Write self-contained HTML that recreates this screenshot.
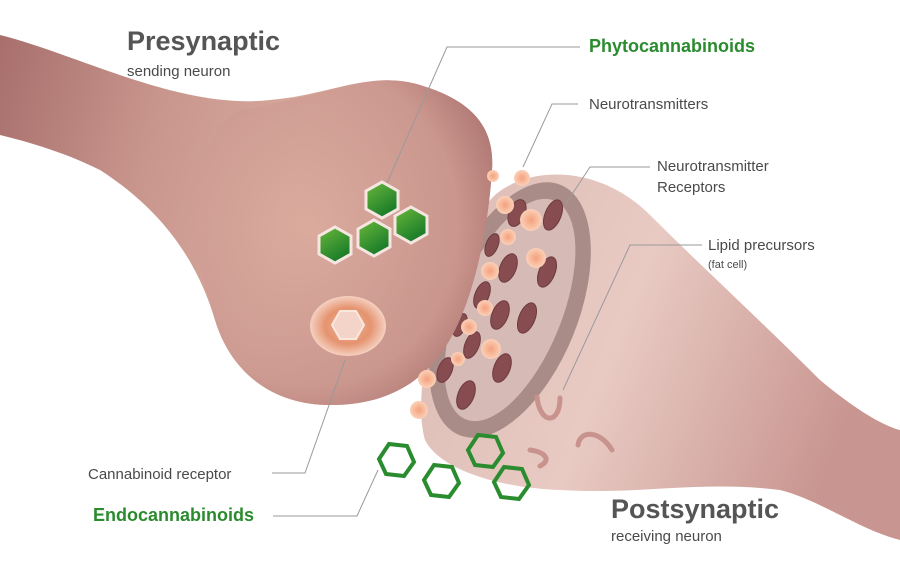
<!DOCTYPE html>
<html><head><meta charset="utf-8"><style>
html,body{margin:0;padding:0;background:#fff;}
svg{display:block;font-family:"Liberation Sans",sans-serif;}
</style></head><body>
<svg width="900" height="563" viewBox="0 0 900 563" xmlns="http://www.w3.org/2000/svg">
<defs>
<linearGradient id="pre" x1="0" y1="0" x2="1" y2="0.2">
<stop offset="0" stop-color="#a86f6c"/><stop offset="0.35" stop-color="#c9968d"/><stop offset="0.65" stop-color="#d7a89c"/><stop offset="1" stop-color="#b98079"/></linearGradient>
<radialGradient id="bulb" cx="0.4" cy="0.45" r="0.7"><stop offset="0" stop-color="#dcac9f"/><stop offset="0.7" stop-color="#cc9990"/><stop offset="1" stop-color="#a86f6c"/></radialGradient>
<linearGradient id="post" x1="0" y1="0" x2="1" y2="0.3">
<stop offset="0" stop-color="#dcbcb5"/><stop offset="0.5" stop-color="#e8cac3"/><stop offset="1" stop-color="#c99590"/></linearGradient>
<radialGradient id="cr" cx="0.5" cy="0.5" r="0.5"><stop offset="0" stop-color="#f0b49a"/><stop offset="0.6" stop-color="#e5936f"/><stop offset="1" stop-color="#f5d0c0"/></radialGradient>
<radialGradient id="dot" cx="0.5" cy="0.5" r="0.5"><stop offset="0" stop-color="#f4a17c"/><stop offset="1" stop-color="#fbd0b8"/></radialGradient>
<linearGradient id="hex" x1="0" y1="0" x2="0.6" y2="1"><stop offset="0" stop-color="#6cb83c"/><stop offset="1" stop-color="#167a28"/></linearGradient>
</defs>

<!-- postsynaptic -->
<path d="M425,440 C410,390 440,250 495,195 C530,165 600,165 650,215 C700,265 760,320 820,380 C850,405 880,425 900,430 L900,540 C860,530 820,500 780,490 C700,480 640,495 560,490 C500,488 440,470 425,440 Z" fill="url(#post)"/>
<g transform="translate(510,310) rotate(22)">
<ellipse rx="68" ry="135" fill="#a98c88"/>
<ellipse rx="52" ry="118" fill="#d6bab5"/>
</g>
<g fill="#874c50" stroke="#6d3a3e" stroke-width="1">
<ellipse cx="553" cy="215" rx="8" ry="16" transform="rotate(22 553 215)"/>
<ellipse cx="517" cy="213" rx="8" ry="14" transform="rotate(22 517 213)"/>
<ellipse cx="547" cy="272" rx="8" ry="16" transform="rotate(22 547 272)"/>
<ellipse cx="508" cy="268" rx="8" ry="15" transform="rotate(22 508 268)"/>
<ellipse cx="482" cy="295" rx="7" ry="14" transform="rotate(22 482 295)"/>
<ellipse cx="527" cy="318" rx="8" ry="16" transform="rotate(22 527 318)"/>
<ellipse cx="500" cy="315" rx="8" ry="15" transform="rotate(22 500 315)"/>
<ellipse cx="472" cy="345" rx="7" ry="14" transform="rotate(22 472 345)"/>
<ellipse cx="502" cy="368" rx="8" ry="15" transform="rotate(22 502 368)"/>
<ellipse cx="466" cy="395" rx="8" ry="15" transform="rotate(22 466 395)"/>
<ellipse cx="445" cy="370" rx="7" ry="13" transform="rotate(22 445 370)"/>
<ellipse cx="492" cy="245" rx="6" ry="12" transform="rotate(22 492 245)"/>
<ellipse cx="460" cy="325" rx="6" ry="12" transform="rotate(22 460 325)"/>
</g>
<g fill="none" stroke="#c9938d" stroke-width="5" stroke-linecap="round">
<path d="M537,397 C540,425 560,425 560,398"/>
<path d="M530,450 C545,452 552,460 540,466"/>
<path d="M578,445 C580,430 600,430 612,450"/>
</g>

<!-- presynaptic -->
<path d="M0,35 C80,55 180,110 270,100 C330,95 370,70 420,85 C470,100 495,125 492,170 C488,230 475,290 455,330 C430,380 390,405 330,405 C270,405 230,370 215,320 C200,270 170,215 100,170 C60,150 20,140 0,135 Z" fill="url(#pre)"/>
<path d="M240,110 C330,95 370,70 420,85 C470,100 495,125 492,170 C488,230 475,290 455,330 C430,380 390,405 330,405 C270,405 230,370 215,320 C205,285 195,250 190,220 C200,160 215,120 240,110 Z" fill="url(#bulb)" opacity="0.85"/>

<!-- green hexes -->
<g fill="url(#hex)" stroke="#f5e6e2" stroke-width="3">
<polygon points="382,182 398,191 398,209 382,218 366,209 366,191"/>
<polygon points="411,207 427,216 427,234 411,243 395,234 395,216"/>
<polygon points="374,220 390,229 390,247 374,256 358,247 358,229"/>
<polygon points="335,227 351,236 351,254 335,263 319,254 319,236"/>
</g>
<ellipse cx="348" cy="326" rx="38" ry="30" fill="url(#cr)"/>
<polygon points="340,311 356,311 364,325 356,339 340,339 332,325" fill="#f4d4c8" stroke="#fae8e0" stroke-width="2"/>

<g fill="url(#dot)">
<circle cx="522" cy="178" r="8"/><circle cx="493" cy="176" r="6"/>
<circle cx="505" cy="205" r="9"/><circle cx="531" cy="220" r="11"/>
<circle cx="508" cy="237" r="8"/><circle cx="536" cy="258" r="10"/>
<circle cx="490" cy="271" r="9"/><circle cx="485" cy="308" r="8"/>
<circle cx="469" cy="327" r="8"/><circle cx="491" cy="349" r="10"/>
<circle cx="458" cy="359" r="7"/><circle cx="427" cy="379" r="9"/>
<circle cx="419" cy="410" r="9"/>
</g>

<g fill="none" stroke="#2a8c2e" stroke-width="4">
<polygon points="389,444 407,446 414,462 404,476 386,474 379,459"/>
<polygon points="434,465 452,467 459,483 449,497 431,495 424,480"/>
<polygon points="478,435 496,437 503,453 493,467 475,465 468,450"/>
<polygon points="504,467 522,469 529,485 519,499 501,497 494,482"/>
</g>

<g fill="none" stroke="#9a9a9a" stroke-width="1">
<polyline points="580,47 447,47 387,183"/>
<polyline points="578,104 552,104 523,167"/>
<polyline points="650,167 590,167 565,205"/>
<polyline points="702,245 630,245 563,390"/>
<polyline points="272,473 305,473 345,360"/>
<polyline points="273,516 357,516 378,470"/>
</g>

<g fill="#4a4a4a">
<text x="127" y="50" font-size="27" font-weight="bold" fill="#555">Presynaptic</text>
<text x="127" y="76" font-size="15">sending neuron</text>
<text x="589" y="109" font-size="15">Neurotransmitters</text>
<text x="657" y="171" font-size="15">Neurotransmitter</text>
<text x="657" y="192" font-size="15">Receptors</text>
<text x="708" y="250" font-size="15">Lipid precursors</text>
<text x="708" y="268" font-size="11">(fat cell)</text>
<text x="88" y="479" font-size="15">Cannabinoid receptor</text>
<text x="611" y="518" font-size="27" font-weight="bold" fill="#555">Postsynaptic</text>
<text x="611" y="541" font-size="15">receiving neuron</text>
</g>
<text x="589" y="52" font-size="18" font-weight="bold" fill="#2a8c2e">Phytocannabinoids</text>
<text x="93" y="521" font-size="18" font-weight="bold" fill="#2a8c2e">Endocannabinoids</text>
</svg>
</body></html>
